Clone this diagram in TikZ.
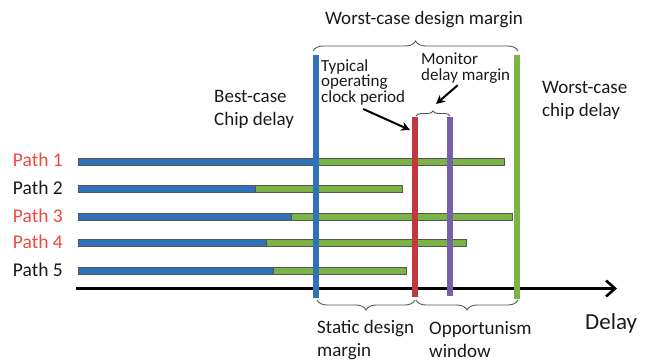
\documentclass[tikz,border=0pt]{standalone}
\usepackage{fontspec}
\setmainfont{Carlito}
\usetikzlibrary{arrows.meta,decorations.pathreplacing}
\definecolor{barblue}{HTML}{2F72B9}
\definecolor{bargreen}{HTML}{7BB446}
\definecolor{clkred}{HTML}{C0393F}
\definecolor{monpurple}{HTML}{7860A8}
\definecolor{lblred}{HTML}{EE4B3C}
\definecolor{ink}{HTML}{1A1A1A}
\definecolor{edge}{HTML}{555555}

% path delay bars: blue part, then green part
\newcommand\delaybar[3]{%
  \path[greenbar] (#2,#1-3.5) rectangle (#3,#1+3.5);
  \path[bluebar]  (78,#1-3.5) rectangle (#2,#1+3.5);
}

\begin{document}
\begin{tikzpicture}[x=1pt,y=-1pt,
  lbl/.style={inner sep=0pt, align=left, text=ink, font=\fontsize{19}{23}\selectfont},
  smalllbl/.style={inner sep=0pt, align=left, text=ink, font=\fontsize{17}{15.5}\selectfont},
  pathlbl/.style={inner sep=0pt, anchor=east, font=\fontsize{19.5}{20}\selectfont},
  bluebar/.style={fill=barblue, draw=edge, line width=0.6pt},
  greenbar/.style={fill=bargreen, draw=edge, line width=0.6pt},
  vline/.style={line width=6.5pt},
  brc/.style={draw=edge, line width=0.9pt, decorate, decoration={brace, amplitude=#1}},
  ptr/.style={draw=black, line width=2pt, -{Stealth[length=9pt,width=9pt]}},
]
\useasboundingbox (0,0) rectangle (653,362);

% path labels
\node[pathlbl, text=lblred] (p1) at (63,160) {Path 1};
\node[pathlbl, text=ink]    (p2) at (63,188) {Path 2};
\node[pathlbl, text=lblred] (p3) at (63,216) {Path 3};
\node[pathlbl, text=lblred] (p4) at (63,242) {Path 4};
\node[pathlbl, text=ink]    (p5) at (63,270) {Path 5};

\delaybar{162}{315}{504}
\delaybar{189}{255}{402}
\delaybar{216.5}{291}{512}
\delaybar{243}{266}{466}
\delaybar{270.5}{273}{406}

% delay axis
\coordinate (ax0) at (76,288.5);
\coordinate (ax1) at (617,288.5);
\draw[line width=2.6pt, -{Straight Barb[length=9pt,width=16pt,line width=2.6pt]}] (ax0) -- (ax1);
\node[inner sep=0pt, anchor=west, text=ink, font=\fontsize{23}{24}\selectfont] (dl) at (585,323) {Delay};

% vertical delay markers
\draw[vline, draw=barblue]   (316,55)  -- (316,298);
\draw[vline, draw=clkred]    (415,117) -- (415,297);
\draw[vline, draw=monpurple] (450,117) -- (450,296);
\draw[vline, draw=bargreen]  (517,55)  -- (517,299);

% braces
\draw[brc=10pt] (313,51) -- (518,51);
\draw[brc=5pt]  (416,116) -- (450,116);
\draw[brc=10pt] (415,300) -- (317,300);
\draw[brc=10pt] (518,300) -- (416,300);

% labels
\node[lbl, anchor=center] (wdm) at (424,20) {Worst-case design margin};
\node[lbl, anchor=west] (best) at (214,109) {Best-case\\Chip delay};
\node[lbl, anchor=west] (worst) at (542,100) {Worst-case\\chip delay};
\node[lbl, anchor=west] (sdm) at (317,340) {Static design\\margin};
\node[lbl, anchor=west] (opw) at (429,340) {Opportunism\\window};
\node[smalllbl, anchor=west] (typ) at (321,82) {Typical\\operating\\clock period};
\node[smalllbl, anchor=west] (mon) at (421,68) {Monitor\\delay margin};

% pointers
\coordinate (typtip) at (410,130);
\coordinate (montip) at (436,104);
\draw[ptr] ([yshift=-4pt]typ.south) -- (typtip);
\draw[ptr] ([xshift=-8pt,yshift=-2pt]mon.south) -- (montip);
\end{tikzpicture}
\end{document}
